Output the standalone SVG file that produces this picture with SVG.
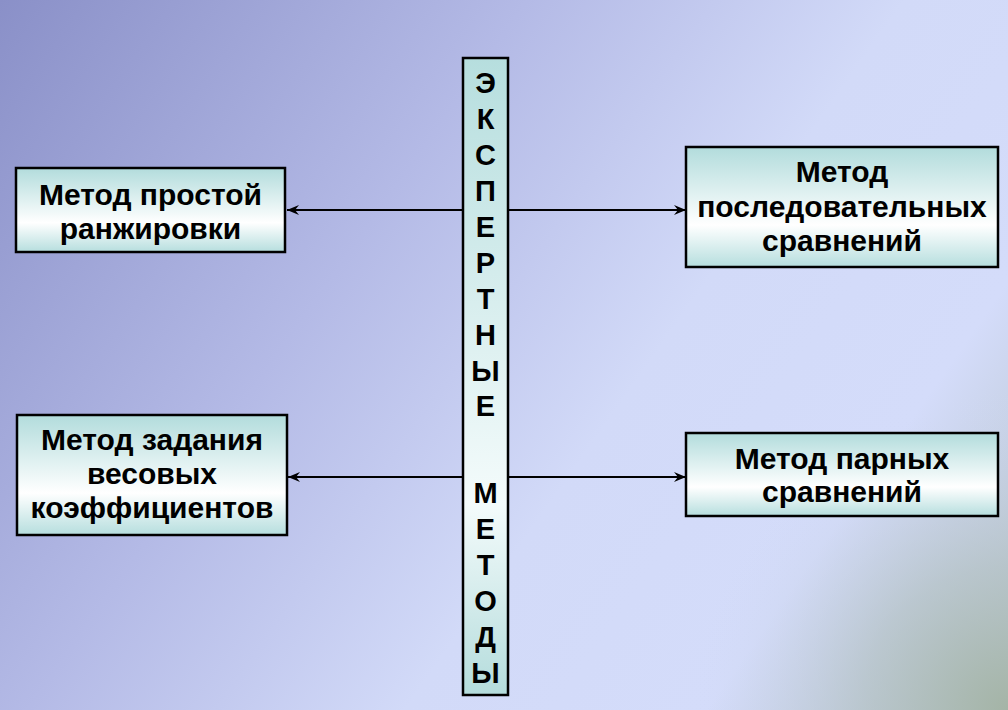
<svg xmlns="http://www.w3.org/2000/svg" width="1008" height="710" viewBox="0 0 1008 710">
  <defs>
    <linearGradient id="bg" x1="0" y1="0" x2="1008" y2="710" gradientUnits="userSpaceOnUse">
      <stop offset="0" stop-color="#8a90c8"/>
      <stop offset="0.35" stop-color="#b4bae6"/>
      <stop offset="0.6" stop-color="#d2daf8"/>
      <stop offset="0.8" stop-color="#d4dcfa"/>
      <stop offset="1" stop-color="#b0bec0"/>
    </linearGradient>
    <radialGradient id="corner" cx="1008" cy="710" r="320" gradientUnits="userSpaceOnUse">
      <stop offset="0" stop-color="#a4b4a6" stop-opacity="1"/>
      <stop offset="0.45" stop-color="#b4c2c4" stop-opacity="0.6"/>
      <stop offset="1" stop-color="#d4dcfa" stop-opacity="0"/>
    </radialGradient>
    <linearGradient id="boxfill" x1="0" y1="0" x2="0" y2="1">
      <stop offset="0" stop-color="#b2dcdc"/>
      <stop offset="0.65" stop-color="#ffffff"/>
      <stop offset="1" stop-color="#b6dede"/>
    </linearGradient>
    <linearGradient id="colfill" x1="0" y1="0" x2="0" y2="1">
      <stop offset="0" stop-color="#b6dede"/>
      <stop offset="0.7" stop-color="#f4fbfb"/>
      <stop offset="1" stop-color="#b4dcdc"/>
    </linearGradient>
    <marker id="arr" viewBox="0 0 12 10" refX="12" refY="5" markerWidth="12" markerHeight="10" markerUnits="userSpaceOnUse" orient="auto">
      <path d="M0,0 L12,5 L0,10 L4,5 Z" fill="#000"/>
    </marker>
    <style>
      .box { fill: url(#boxfill); stroke: #000; stroke-width: 2.5; }
      .col { fill: url(#colfill); stroke: #000; stroke-width: 2.5; }
      .t { font-family: "Liberation Sans", Arial, sans-serif; font-weight: bold; font-size: 30px; fill: #000; text-anchor: middle; }
      .v { font-family: "Liberation Sans", Arial, sans-serif; font-weight: bold; font-size: 29px; fill: #000; text-anchor: middle; }
      .ln { stroke: #000; stroke-width: 2; fill: none; marker-end: url(#arr); }
    </style>
  </defs>
  <rect x="0" y="0" width="1008" height="710" fill="url(#bg)"/>
  <rect x="0" y="0" width="1008" height="710" fill="url(#corner)"/>

  <g id="connectors">
    <line class="ln" x1="463" y1="210" x2="287" y2="210"/>
    <line class="ln" x1="508" y1="210" x2="686" y2="210"/>
    <line class="ln" x1="463" y1="477" x2="288" y2="477"/>
    <line class="ln" x1="508" y1="477" x2="686" y2="477"/>
  </g>

  <g id="center">
    <rect class="col" x="463" y="58" width="45" height="637"/>
    <text class="v" x="485.5" y="93">Э</text>
    <text class="v" x="485.5" y="129">К</text>
    <text class="v" x="485.5" y="165">С</text>
    <text class="v" x="485.5" y="201">П</text>
    <text class="v" x="485.5" y="237">Е</text>
    <text class="v" x="485.5" y="273">Р</text>
    <text class="v" x="485.5" y="309">Т</text>
    <text class="v" x="485.5" y="345">Н</text>
    <text class="v" x="485.5" y="381">Ы</text>
    <text class="v" x="485.5" y="416">Е</text>
    <text class="v" x="485.5" y="503">М</text>
    <text class="v" x="485.5" y="539">Е</text>
    <text class="v" x="485.5" y="575">Т</text>
    <text class="v" x="485.5" y="611">О</text>
    <text class="v" x="485.5" y="647">Д</text>
    <text class="v" x="485.5" y="683">Ы</text>
  </g>

  <g id="n1">
    <rect class="box" x="16" y="168" width="269" height="84"/>
    <text class="t" x="150.5" y="205">Метод простой</text>
    <text class="t" x="150.5" y="239">ранжировки</text>
  </g>

  <g id="n2">
    <rect class="box" x="686" y="147" width="312" height="120"/>
    <text class="t" x="842" y="182">Метод</text>
    <text class="t" x="842" y="217">последовательных</text>
    <text class="t" x="842" y="251">сравнений</text>
  </g>

  <g id="n3">
    <rect class="box" x="17" y="415" width="270" height="120"/>
    <text class="t" x="152" y="450">Метод задания</text>
    <text class="t" x="152" y="484">весовых</text>
    <text class="t" x="152" y="518">коэффициентов</text>
  </g>

  <g id="n4">
    <rect class="box" x="686" y="433" width="312" height="83"/>
    <text class="t" x="842" y="469">Метод парных</text>
    <text class="t" x="842" y="502">сравнений</text>
  </g>
</svg>
